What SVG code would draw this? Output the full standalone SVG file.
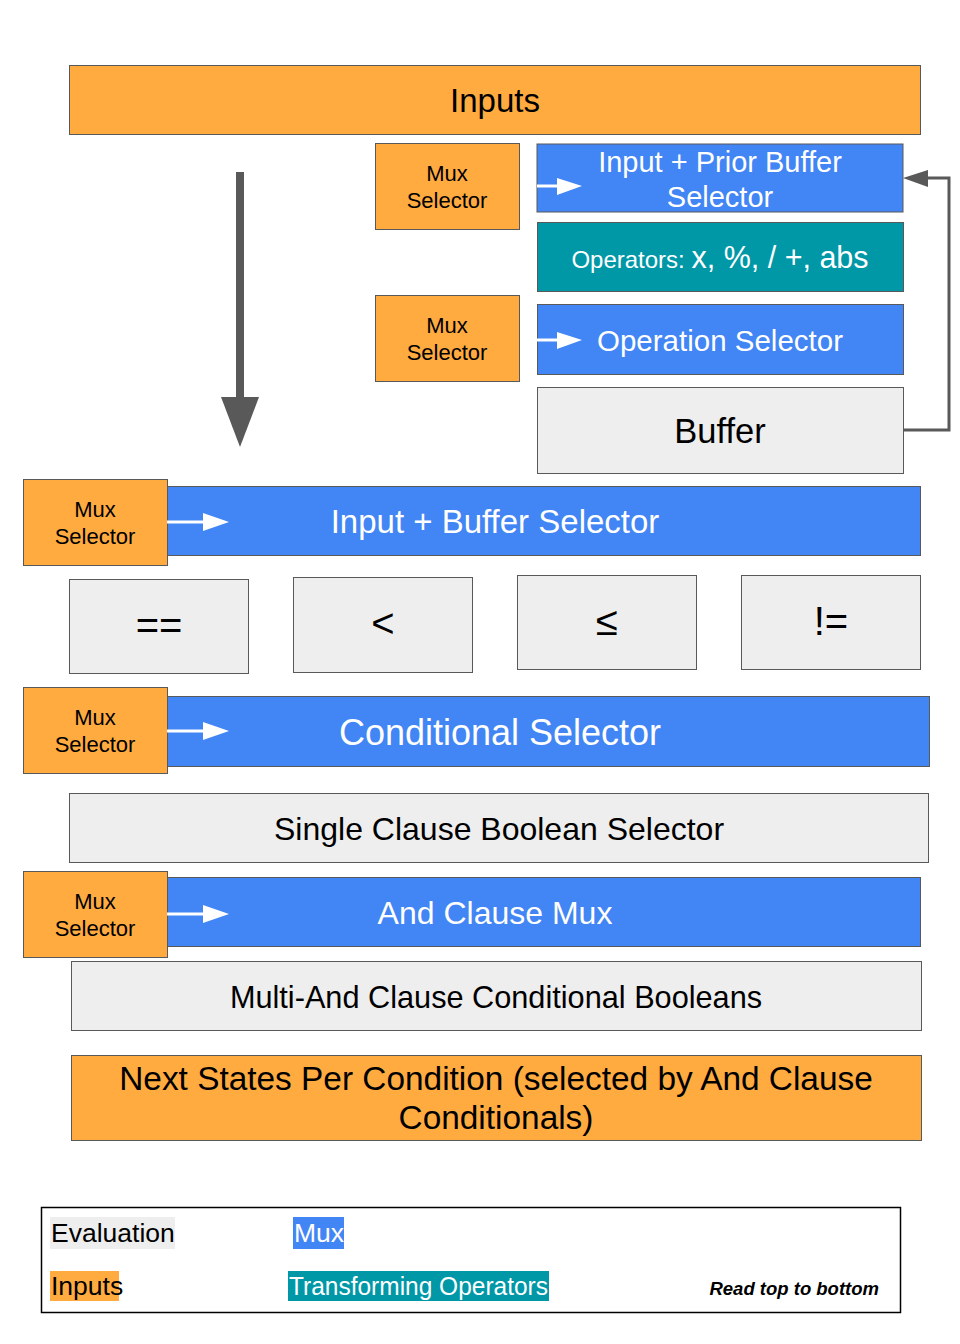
<svg xmlns="http://www.w3.org/2000/svg" width="960" height="1344" viewBox="0 0 960 1344">
<defs>
<style>
text{font-family:"Liberation Sans",Arial,sans-serif;text-anchor:middle}
.org{fill:#FFAB40;stroke:#595959;stroke-width:1}
.blu{fill:#4285F4;stroke:#595959;stroke-width:1}
.tea{fill:#0097A7;stroke:#595959;stroke-width:1}
.gry{fill:#EEEEEE;stroke:#595959;stroke-width:1}
.w{fill:#FFFFFF}
.k{fill:#000000}
.mux{font-size:22px;fill:#000}
.warr{stroke:#FFFFFF;stroke-width:3;fill:none}
.whd{fill:#FFFFFF}
</style>
</defs>
<rect width="960" height="1344" fill="#FFFFFF"/>

<g id="inputs"><rect class="org" x="69.5" y="65.5" width="851" height="69"/><text x="495" y="112" font-size="33" class="k">Inputs</text></g>

<g id="mux1"><rect class="org" x="375.5" y="143.5" width="144" height="86"/><text class="mux" x="447" y="181">Mux</text><text class="mux" x="447" y="208">Selector</text></g>
<g id="prior-buffer-selector"><rect class="blu" x="537" y="144" width="366" height="68" stroke="none"/><text class="w" x="720" y="172" font-size="29">Input + Prior Buffer</text><text class="w" x="720" y="207" font-size="29">Selector</text></g>
<g id="operators"><rect class="tea" x="537.5" y="222.5" width="366" height="69"/><text class="w" x="720" y="268"><tspan font-size="24">Operators: </tspan><tspan font-size="30.5">x, %, / +, abs</tspan></text></g>
<g id="mux2"><rect class="org" x="375.5" y="295.5" width="144" height="86"/><text class="mux" x="447" y="333">Mux</text><text class="mux" x="447" y="360">Selector</text></g>
<g id="operation-selector"><rect class="blu" x="537.5" y="304.5" width="366" height="70"/><text class="w" x="720" y="351" font-size="29.5">Operation Selector</text></g>
<g id="buffer"><rect class="gry" x="537.5" y="387.5" width="366" height="86"/><text class="k" x="720" y="443" font-size="34.5">Buffer</text></g>

<g id="mux3"><rect class="org" x="23.5" y="479.5" width="144" height="86"/><text class="mux" x="95" y="517">Mux</text><text class="mux" x="95" y="544">Selector</text></g>
<g id="input-buffer-selector"><rect class="blu" x="167.5" y="486.5" width="753" height="69"/><text class="w" x="495" y="533" font-size="33">Input + Buffer Selector</text></g>

<g id="eq"><rect class="gry" x="69.5" y="579.5" width="179" height="94"/><text class="k" x="159" y="639" font-size="40">==</text></g>
<g id="lt"><rect class="gry" x="293.5" y="577.5" width="179" height="95"/><text class="k" x="383" y="637" font-size="40">&lt;</text></g>
<g id="le"><rect class="gry" x="517.5" y="575.5" width="179" height="94"/><text class="k" x="607" y="635" font-size="40">≤</text></g>
<g id="ne"><rect class="gry" x="741.5" y="575.5" width="179" height="94"/><text class="k" x="831" y="635" font-size="40">!=</text></g>

<g id="mux4"><rect class="org" x="23.5" y="687.5" width="144" height="86"/><text class="mux" x="95" y="725">Mux</text><text class="mux" x="95" y="752">Selector</text></g>
<g id="conditional-selector"><rect class="blu" x="167.5" y="696.5" width="762" height="70"/><text class="w" x="500" y="745" font-size="36">Conditional Selector</text></g>

<g id="single-clause"><rect class="gry" x="69.5" y="793.5" width="859" height="69"/><text class="k" x="499" y="840" font-size="32">Single Clause Boolean Selector</text></g>

<g id="mux5"><rect class="org" x="23.5" y="871.5" width="144" height="86"/><text class="mux" x="95" y="909">Mux</text><text class="mux" x="95" y="936">Selector</text></g>
<g id="and-clause-mux"><rect class="blu" x="167.5" y="877.5" width="753" height="69"/><text class="w" x="495" y="924" font-size="32">And Clause Mux</text></g>

<g id="multi-and"><rect class="gry" x="71.5" y="961.5" width="850" height="69"/><text class="k" x="496" y="1008" font-size="30.7">Multi-And Clause Conditional Booleans</text></g>

<g id="next-states"><rect class="org" x="71.5" y="1055.5" width="850" height="85"/><text class="k" x="496" y="1090" font-size="33.4">Next States Per Condition (selected by And Clause</text><text class="k" x="496" y="1129" font-size="33.4">Conditionals)</text></g>

<g id="connectors">
<line class="warr" x1="537" y1="186" x2="560" y2="186"/><path class="whd" d="M557,178 L582,186 L557,195 Z"/>
<line class="warr" x1="537" y1="340" x2="560" y2="340"/><path class="whd" d="M557,332 L582,340 L557,349 Z"/>
<line class="warr" x1="167" y1="522" x2="206" y2="522"/><path class="whd" d="M203,513 L229,522 L203,531 Z"/>
<line class="warr" x1="167" y1="731" x2="206" y2="731"/><path class="whd" d="M203,722 L229,731 L203,740 Z"/>
<line class="warr" x1="167" y1="914" x2="206" y2="914"/><path class="whd" d="M203,905 L229,914 L203,923 Z"/>
<path d="M904,430 H949 V178 H926" fill="none" stroke="#595959" stroke-width="3"/>
<path d="M903,178 L928,170 L928,187 Z" fill="#595959"/>
<rect x="236" y="172" width="8" height="226" fill="#595959"/>
<path d="M221,397 L259,397 L240,447 Z" fill="#595959"/>
</g>

<g id="legend">
<rect x="41.5" y="1207.5" width="859" height="105" fill="none" stroke="#000" stroke-width="1.5"/>
<rect x="50" y="1217" width="125" height="32" fill="#EEEEEE"/>
<text x="51" y="1242" font-size="26.5" class="k" style="text-anchor:start">Evaluation</text>
<rect x="293" y="1217" width="51" height="32" fill="#4285F4"/>
<text x="294" y="1242" font-size="26.5" class="w" style="text-anchor:start">Mux</text>
<rect x="50" y="1271" width="69" height="30" fill="#FFAB40"/>
<text x="51" y="1295" font-size="26.5" class="k" style="text-anchor:start">Inputs</text>
<rect x="288" y="1271" width="261" height="30" fill="#0097A7"/>
<text x="289" y="1295" font-size="26" class="w" style="text-anchor:start" textLength="259" lengthAdjust="spacingAndGlyphs">Transforming Operators</text>
<text x="879" y="1295" font-size="18.5" font-weight="bold" font-style="italic" class="k" style="text-anchor:end">Read top to bottom</text>
</g>
</svg>
